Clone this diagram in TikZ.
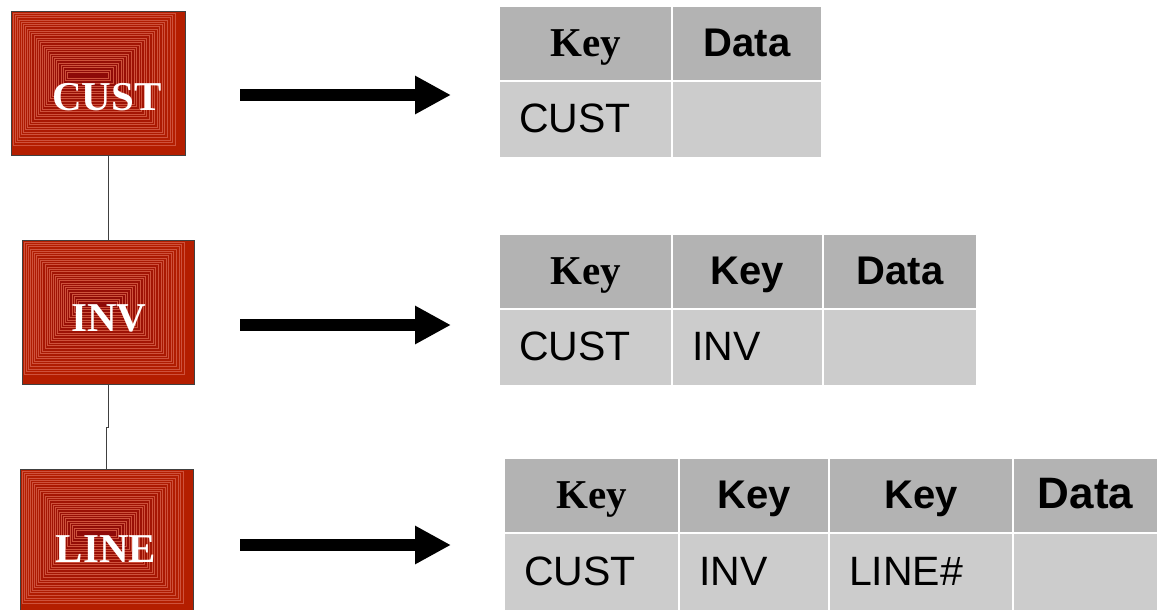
\documentclass[tikz,border=0pt]{standalone}
\usepackage{fontspec}
\setmainfont{Liberation Serif}
\newfontfamily\arialf{Liberation Sans}
\usetikzlibrary{arrows.meta,calc}
\definecolor{boxouter}{RGB}{180,30,0}
\definecolor{boxinner}{RGB}{142,10,8}
\definecolor{boxstripe}{RGB}{206,82,60}
\definecolor{hdrgray}{RGB}{179,179,179}
\definecolor{rowgray}{RGB}{204,204,204}
\newcommand\gradbox[4]{%
  \fill[boxouter] (#1,#2) rectangle (#3,#4);
  \foreach \i in {0,...,26}{
    \pgfmathsetmacro\tt{\i/26}
    \pgfmathsetmacro\ax{#1+2+\tt*54}
    \pgfmathsetmacro\ay{#2+2+\tt*59}
    \pgfmathsetmacro\bx{#3-10-\tt*67}
    \pgfmathsetmacro\by{#4-10-\tt*67}
    \pgfmathtruncatemacro\pp{100*\i/26}
    \filldraw[fill=boxinner!\pp!boxouter, draw=boxstripe, line width=0.45pt] (\ax,\ay) rectangle (\bx,\by);
  }%
}
\begin{document}
\begin{tikzpicture}[x=1pt,y=-1pt,
  redframe/.style={rectangle, draw=black!75, line width=0.8pt, inner sep=0pt},
  boxlabel/.style={text=white, font=\bfseries\fontsize{41pt}{41pt}\selectfont, inner sep=0pt},
  conn/.style={draw=black!75, line width=0.9pt},
  bigarrow/.style={line width=12pt, -{Triangle[length=36pt, width=36pt]}},
  hcell/.style={rectangle, fill=hdrgray, draw=white, line width=2pt, anchor=north west, inner sep=0pt, minimum height=75pt, text height=32pt, text depth=6pt},
  dcell/.style={rectangle, fill=rowgray, draw=white, line width=2pt, anchor=north west, inner xsep=20pt, inner ysep=0pt, minimum height=77pt, align=left, text height=30pt, text depth=4pt, font=\arialf\fontsize{41pt}{41pt}\selectfont},
  serifkey/.style={font=\bfseries\fontsize{41pt}{41pt}\selectfont},
  sanshdr/.style={font=\arialf\bfseries\fontsize{40pt}{40pt}\selectfont},
]
\useasboundingbox (0,0) rectangle (1157,610);

% red boxes
\gradbox{11}{11}{185}{155}
\node[redframe, minimum width=174pt, minimum height=144pt] (cust) at (98,83) {};
\node[boxlabel] (custlbl) at (107,97) {CUST};

\gradbox{22}{240}{194}{384}
\node[redframe, minimum width=172pt, minimum height=144pt] (inv) at (108,312) {};
\node[boxlabel] (invlbl) at (109,318) {INV};

\gradbox{20}{469}{193}{613}
\node[redframe, minimum width=173pt, minimum height=144pt] (line) at (106.5,541) {};
\node[boxlabel] (linelbl) at (106,549) {LINE};

% connectors
\draw[conn] (cust.south -| inv.north) -- (inv.north);
\draw[conn] (inv.south) -- ++(0,43) -| (line.north);

% arrows
\coordinate (a1s) at (240,95);  \coordinate (a1e) at (451,95);
\coordinate (a2s) at (240,325); \coordinate (a2e) at (451,325);
\coordinate (a3s) at (240,545); \coordinate (a3e) at (451,545);
\draw[bigarrow] (a1s) -- (a1e);
\draw[bigarrow] (a2s) -- (a2e);
\draw[bigarrow] (a3s) -- (a3e);

% table 1
\node[hcell, minimum width=173pt, serifkey] (t1h1) at (498,5) {Key};
\node[hcell, minimum width=150pt, sanshdr] (t1h2) at (671,5) {Data};
\node[dcell, text width=133pt] (t1d1) at (498,80) {CUST};
\node[dcell, text width=110pt] (t1d2) at (671,80) {};

% table 2
\node[hcell, minimum width=173pt, serifkey] (t2h1) at (498,233) {Key};
\node[hcell, minimum width=151pt, sanshdr] (t2h2) at (671,233) {Key};
\node[hcell, minimum width=154pt, sanshdr] (t2h3) at (822,233) {Data};
\node[dcell, text width=133pt] (t2d1) at (498,308) {CUST};
\node[dcell, text width=111pt] (t2d2) at (671,308) {INV};
\node[dcell, text width=114pt] (t2d3) at (822,308) {};

% table 3
\node[hcell, minimum width=175pt, serifkey] (t3h1) at (503,457) {Key};
\node[hcell, minimum width=150pt, sanshdr] (t3h2) at (678,457) {Key};
\node[hcell, minimum width=184pt, sanshdr] (t3h3) at (828,457) {Key};
\node[hcell, minimum width=145pt, font=\arialf\bfseries\fontsize{44pt}{44pt}\selectfont] (t3h4) at (1012,457) {Data};
\node[dcell, text width=135pt, minimum height=78pt] (t3d1) at (503,532) {CUST};
\node[dcell, text width=110pt, minimum height=78pt] (t3d2) at (678,532) {INV};
\node[dcell, text width=144pt, minimum height=78pt] (t3d3) at (828,532) {LINE\#};
\node[dcell, text width=105pt, minimum height=78pt] (t3d4) at (1012,532) {};
\end{tikzpicture}
\end{document}
